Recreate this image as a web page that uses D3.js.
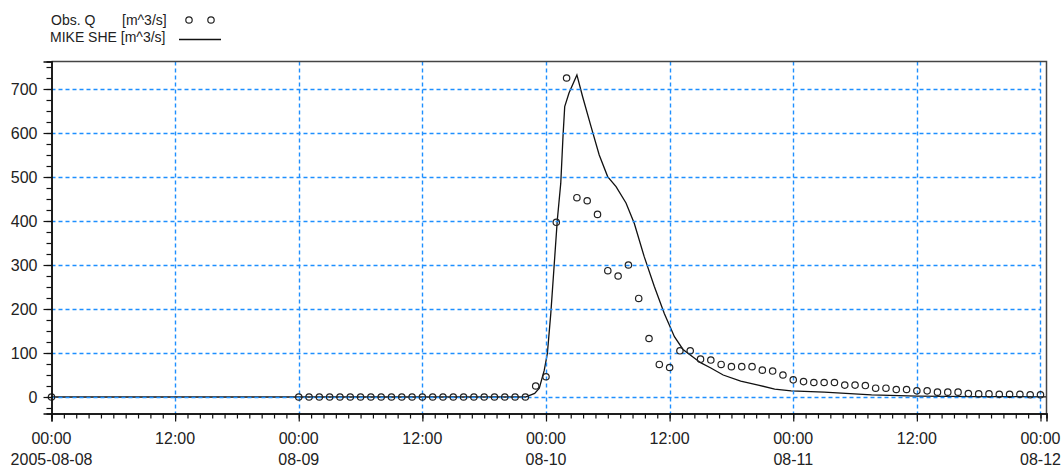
<!DOCTYPE html>
<html>
<head>
<meta charset="utf-8">
<script src="https://cdn.jsdelivr.net/npm/d3@7"></script>
<style>
  body { margin: 0; background: #fff; }
  svg { display: block; font-family: "Liberation Sans", Arial, sans-serif; }
</style>
</head>
<body>
<svg id="chart" width="1064" height="467"></svg>
<script>
const parse = d3.timeParse("%Y-%m-%d %H:%M");

// observed discharge: one value at the start, then hourly from 08-09 00:00 to 08-12 00:00
const obsFirst = {t: "2005-08-08 00:00", v: 0};
const obsStart = "2005-08-09 00:00";
const obsValues = [
  0,0,0,0,0,0,0,0,0,0,0,0,0,0,0,0,0,0,0,0,0,0,0,25,
  46,397,725,453,446,415,287,275,300,224,133,74,67,105,105,86,84,74,69,69,69,61,59,50,
  39,35,33,33,33,27,27,26,20,20,17,17,14,14,11,11,11,8,7,7,6,6,6,5,
  5
];

// MIKE SHE simulated discharge, hours relative to 2005-08-10 00:00
const simRef = "2005-08-10 00:00";
const simHours = [-48, -2, -1.1, -0.65, -0.17, 0.13, 0.46, 0.78, 1.1, 1.43, 1.65, 1.81, 2.23, 3.0,
  3.55, 4.37, 5.17, 5.99, 6.8, 7.77, 8.57, 9.54, 10.52, 11.49, 12.46, 13.3, 14.2, 15, 16,
  17.2, 18.9, 20.6, 22.2, 23.8, 27, 31.6, 36, 41.6, 48.6];
const simValues = [0, 0, 8, 20, 61, 99, 190, 296, 403, 486, 592, 660, 691, 732,
  683, 615, 550, 501, 478, 441, 395, 319, 251, 190, 137, 108, 92, 78, 66,
  50, 36, 27, 18, 14, 11, 5, 2, 1, 0.5];

const yMajor = [0, 100, 200, 300, 400, 500, 600, 700];
const xStart = "2005-08-08 00:00";
const xEnd = "2005-08-12 00:35";
const xLabelTop = ["00:00","12:00","00:00","12:00","00:00","12:00","00:00","12:00","00:00"];
const xLabelBottom = ["2005-08-08","","08-09","","08-10","","08-11","","08-12"];

const legendObs = ["Obs. Q", "[m^3/s]"];
const legendSim = "MIKE SHE [m^3/s]";

const pLeft = 51.5, pRight = 1046.5, pTop = 61.5, pBottom = 413.5;
const gridColor = "#1e8fff";

const svg = d3.select("#chart");

const x = d3.scaleTime().domain([parse(xStart), parse(xEnd)]).range([pLeft, pRight]);
const y = d3.scaleLinear().domain([-37.5, 762.5]).range([pBottom, pTop]);

const t0 = parse(xStart);
const majorT = d3.range(0, 9).map(i => d3.timeHour.offset(t0, i * 12));
const minorT = d3.range(0, 81).map(i => d3.timeMinute.offset(t0, i * 72));
const lastT = majorT[majorT.length - 1];

const obs = [{t: parse(obsFirst.t), v: obsFirst.v}].concat(
  obsValues.map((v, i) => ({t: d3.timeHour.offset(parse(obsStart), i), v})));
const sim = simHours.map((h, i) => ({t: d3.timeMinute.offset(parse(simRef), Math.round(h * 60)), v: simValues[i]}));

// simulated line
svg.append("path")
  .datum(sim)
  .attr("fill", "none")
  .attr("stroke", "#111")
  .attr("stroke-width", 1.3)
  .attr("d", d3.line().x(d => x(d.t)).y(d => y(d.v)));

// grid (drawn on top, like the original)
const grid = svg.append("g").attr("stroke", gridColor).attr("stroke-width", 1.4).attr("stroke-dasharray", "4,3");
grid.selectAll("line.h").data(yMajor).join("line")
  .attr("x1", pLeft).attr("x2", x(lastT))
  .attr("y1", d => Math.round(y(d)) + 0.5).attr("y2", d => Math.round(y(d)) + 0.5);
grid.selectAll("line.v").data(majorT.slice(1)).join("line")
  .attr("x1", d => Math.round(x(d)) + 0.5).attr("x2", d => Math.round(x(d)) + 0.5)
  .attr("y1", pTop).attr("y2", pBottom);

// observed circles
svg.append("g").selectAll("circle").data(obs).join("circle")
  .attr("cx", d => x(d.t)).attr("cy", d => y(d.v)).attr("r", 3.2)
  .attr("fill", "none").attr("stroke", "#222").attr("stroke-width", 1.2);

// frame
svg.append("path")
  .attr("d", `M${pLeft},${pTop}H${pRight}V${pBottom}`)
  .attr("fill", "none").attr("stroke", "#444").attr("stroke-width", 1.5);

// x axis
const xAxis = svg.append("g").attr("transform", `translate(0,${pBottom})`);
xAxis.call(d3.axisBottom(x).tickValues(minorT).tickSize(5).tickFormat(""));
xAxis.append("g").call(d3.axisBottom(x).tickValues(majorT).tickSize(8).tickFormat(""));
xAxis.selectAll(".domain").attr("stroke", "#111").attr("stroke-width", 1.5);
xAxis.selectAll(".tick line").attr("stroke", "#111").attr("stroke-width", 1.2);

const xl = svg.append("g").attr("font-size", 16).attr("fill", "#222").attr("text-anchor", "middle");
xl.selectAll("text.a").data(majorT).join("text")
  .attr("x", d => x(d)).attr("y", 444).text((d, i) => xLabelTop[i]);
xl.selectAll("text.b").data(majorT).join("text")
  .attr("x", d => x(d)).attr("y", 465).text((d, i) => xLabelBottom[i]);

// y axis
const yAxis = svg.append("g").attr("transform", `translate(${pLeft},0)`);
yAxis.call(d3.axisLeft(y).tickValues(d3.range(-25, 751, 25)).tickSize(5).tickFormat(""));
yAxis.append("g").call(d3.axisLeft(y).tickValues(yMajor).tickSize(8).tickPadding(6).tickFormat(d3.format("d")));
yAxis.selectAll(".domain").attr("stroke", "#111").attr("stroke-width", 1.5);
yAxis.selectAll(".tick line").attr("stroke", "#111").attr("stroke-width", 1.2);
yAxis.selectAll("text").attr("font-size", 16).attr("fill", "#222").attr("font-family", "Liberation Sans, Arial, sans-serif");

// legend
const lg = svg.append("g").attr("font-size", 14).attr("fill", "#222");
lg.append("text").attr("x", 51).attr("y", 25).text(legendObs[0]);
lg.append("text").attr("x", 122).attr("y", 25).text(legendObs[1]);
lg.selectAll("circle").data([189, 211]).join("circle")
  .attr("cx", d => d).attr("cy", 20).attr("r", 3.2)
  .attr("fill", "none").attr("stroke", "#222").attr("stroke-width", 1.2);
lg.append("text").attr("x", 50).attr("y", 42).text(legendSim);
lg.append("line").attr("x1", 179).attr("x2", 221).attr("y1", 39.5).attr("y2", 39.5)
  .attr("stroke", "#111").attr("stroke-width", 1.3);
</script>
</body>
</html>
